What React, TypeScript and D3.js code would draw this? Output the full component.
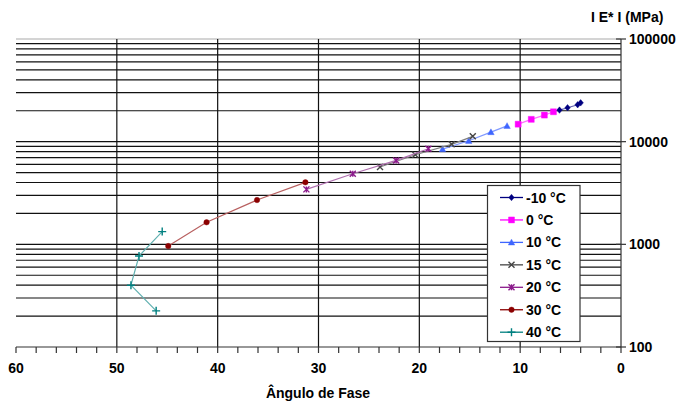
import React from "react";
import * as d3 from "d3";

const seriesNames = ["-10 °C", "0 °C", "10 °C", "15 °C", "20 °C", "30 °C", "40 °C"];
const seriesColors = ["#000080", "#FF00FF", "#3F66FF", "#444444", "#8B1A8B", "#8B0000", "#008080"];
const seriesLineColors = ["#6060b0", "#ff70ff", "#8099ff", "#808080", "#b070b0", "#b86060", "#60b0b0"];
const seriesMarkers = ["diamond", "square", "triangle", "times", "asterisk", "circle", "plus"];

const anglesM10 = [6.1, 5.3, 4.3, 4.0];
const modM10 = [20300, 21400, 22900, 23900];
const angles0 = [10.2, 8.9, 7.6, 6.7];
const mod0 = [14800, 16500, 18150, 19550];
const angles10 = [17.7, 15.1, 12.9, 11.3];
const mod10 = [8470, 10200, 12400, 14250];
const angles15 = [23.9, 20.4, 16.8, 14.7];
const mod15 = [5660, 7450, 9420, 11270];
const angles20 = [31.2, 26.6, 22.3, 19.1];
const mod20 = [3430, 4870, 6570, 8530];
const angles30 = [44.9, 41.1, 36.1, 31.3];
const mod30 = [962, 1640, 2700, 4015];
const angles40 = [45.5, 47.8, 48.6, 46.1];
const mod40 = [1330, 770, 400, 225];

const xTicks = [60, 50, 40, 30, 20, 10, 0];
const yTicks = [100, 1000, 10000, 100000];
const yTickLabels = ["100", "1000", "10000", "100000"];

const allAngles = [anglesM10, angles0, angles10, angles15, angles20, angles30, angles40];
const allMods = [modM10, mod0, mod10, mod15, mod20, mod30, mod40];

const W = 678;
const H = 403;
const FONT = "'Liberation Sans', Arial, sans-serif";

function markerPath(kind: string, size: number): string {
  const s = size;
  const h = s / 2;
  switch (kind) {
    case "diamond":
      return `M0,${-h}L${h * 0.85},0L0,${h}L${-h * 0.85},0Z`;
    case "square":
      return `M${-h},${-h}H${h}V${h}H${-h}Z`;
    case "triangle":
      return `M0,${-h}L${h},${h * 0.8}L${-h},${h * 0.8}Z`;
    case "circle":
      return d3.symbol(d3.symbolCircle, Math.PI * h * h)() || "";
    case "times":
      return `M${-h},${-h}L${h},${h}M${-h},${h}L${h},${-h}`;
    case "plus":
      return `M${-h},0L${h},0M0,${-h}L0,${h}`;
    case "asterisk":
      return `M${-h},${-h}L${h},${h}M${-h},${h}L${h},${-h}M0,${-h}L0,${h}`;
  }
  return "";
}

const strokeMarkers = new Set(["times", "plus", "asterisk"]);
const markerSizes: Record<string, number> = {
  diamond: 6.5,
  square: 6,
  triangle: 6.5,
  circle: 5.5,
  times: 6,
  plus: 8,
  asterisk: 6,
};

function Marker({ kind, color, x, y }: { kind: string; color: string; x: number; y: number }) {
  const d = markerPath(kind, markerSizes[kind]);
  const isStroke = strokeMarkers.has(kind);
  return (
    <path
      d={d}
      transform={`translate(${x},${y})`}
      fill={isStroke ? "none" : color}
      stroke={color}
      strokeWidth={isStroke ? 1.4 : 0.4}
    />
  );
}

export default function App() {
  const x = d3.scaleLinear().domain([60, 0]).range([16, 621]);
  const y = d3.scaleLog().domain([100, 100000]).range([347, 39]);

  const minorY: number[] = [];
  for (let dec = 100; dec < 100000; dec *= 10) {
    for (let k = 2; k <= 9; k++) minorY.push(dec * k);
  }
  const minorX = d3.range(0, 61, 2);

  const line = d3
    .line<[number, number]>()
    .x((d) => x(d[0]))
    .y((d) => y(d[1]));

  const legX = 487.5;
  const legY = 185.5;
  const legW = 92.5;
  const legH = 156;
  const legRow0 = 197.5;
  const legStep = 22.45;

  return (
    <svg
      width={W}
      height={H}
      style={{ position: "absolute", left: 0, top: 0, background: "#fff" }}
      fontFamily={FONT}
    >
      <rect x={0} y={0} width={W} height={H} fill="#fff" />
      {/* horizontal gridlines */}
      {minorY.concat([1000, 10000]).map((v, i) => (
        <line key={"hg" + i} x1={16} x2={621} y1={y(v)} y2={y(v)} stroke="#111" strokeWidth={1.2} />
      ))}
      <line x1={16} x2={621} y1={y(100000)} y2={y(100000)} stroke="#aaa" strokeWidth={1.2} />
      {/* vertical gridlines */}
      {[50, 40, 30, 20, 10].map((v) => (
        <line key={"vg" + v} x1={x(v)} x2={x(v)} y1={y(100000)} y2={y(100)} stroke="#111" strokeWidth={1.2} />
      ))}
      {/* y axis on right */}
      <line x1={621} x2={621} y1={y(100000)} y2={y(100)} stroke="#333" strokeWidth={1.2} />
      {yTicks.map((v) => (
        <line key={"yt" + v} x1={616} x2={626} y1={y(v)} y2={y(v)} stroke="#333" strokeWidth={1.2} />
      ))}
      {yTicks.map((v, i) => (
        <text key={"yl" + v} x={629} y={y(v) + 5} fontSize={14} fontWeight="bold" fill="#000">
          {yTickLabels[i]}
        </text>
      ))}
      <text x={591} y={22} fontSize={14} fontWeight="bold" fill="#000">
        I E* I (MPa)
      </text>
      {/* x axis */}
      <line x1={16} x2={621} y1={347} y2={347} stroke="#333" strokeWidth={1.2} />
      {minorX.map((v) => (
        <line key={"xt" + v} x1={x(v)} x2={x(v)} y1={347} y2={353} stroke="#333" strokeWidth={1.2} />
      ))}
      {xTicks.map((v) => (
        <text key={"xl" + v} x={x(v)} y={373} fontSize={14} fontWeight="bold" textAnchor="middle" fill="#000">
          {v}
        </text>
      ))}
      <text x={318} y={398} fontSize={14} fontWeight="bold" textAnchor="middle" fill="#000">
        Ângulo de Fase
      </text>
      {/* series */}
      {allAngles.map((angs, si) => {
        const pts: [number, number][] = angs.map((a, j) => [a, allMods[si][j]]);
        return (
          <g key={"s" + si}>
            <path d={line(pts) || ""} fill="none" stroke={seriesLineColors[si]} strokeWidth={1.2} />
            {pts.map((p, j) => (
              <Marker key={j} kind={seriesMarkers[si]} color={seriesColors[si]} x={x(p[0])} y={y(p[1])} />
            ))}
          </g>
        );
      })}
      {/* legend */}
      <rect x={legX} y={legY} width={legW} height={legH} fill="#fff" stroke="#333" strokeWidth={1.2} />
      {seriesNames.map((name, i) => {
        const cy = legRow0 + i * legStep;
        return (
          <g key={"lg" + i}>
            <line x1={500} x2={523} y1={cy} y2={cy} stroke={seriesColors[i]} strokeWidth={1.3} />
            <Marker kind={seriesMarkers[i]} color={seriesColors[i]} x={511.5} y={cy} />
            <text x={526} y={cy + 5} fontSize={14} fontWeight="bold" fill="#000">
              {name}
            </text>
          </g>
        );
      })}
    </svg>
  );
}
